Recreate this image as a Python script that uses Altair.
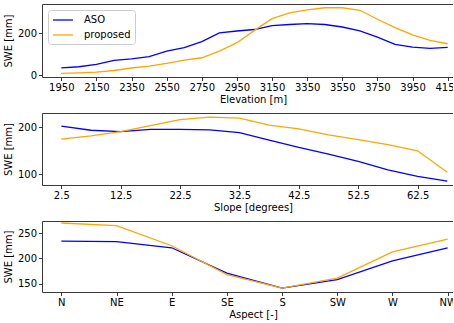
import altair as alt
import pandas as pd

# ---- data ----
series = ["ASO", "proposed"]

elevation = [1950, 2050, 2150, 2250, 2350, 2450, 2550, 2650, 2750, 2850, 2950, 3050,
             3150, 3250, 3350, 3450, 3550, 3650, 3750, 3850, 3950, 4050, 4150]
elev_aso = [35, 40, 51, 70, 78, 88, 115, 131, 160, 202, 211, 218,
            237, 242, 246, 242, 230, 211, 182, 147, 134, 128, 133]
elev_prop = [8, 11, 14, 22, 34, 43, 56, 72, 83, 115, 155, 214,
             270, 298, 312, 322, 322, 310, 267, 227, 192, 166, 150]
elev_ticks = [1950, 2150, 2350, 2550, 2750, 2950, 3150, 3350, 3550, 3750, 3950, 4150]

slope = [2.5, 7.5, 12.5, 17.5, 22.5, 27.5, 32.5, 37.5, 42.5, 47.5, 52.5, 57.5, 62.5, 67.5]
slope_aso = [203, 194, 191, 196, 196, 195, 189, 173, 157, 143, 127, 109, 95, 85]
slope_prop = [175, 182, 191, 204, 217, 222, 220, 205, 197, 184, 174, 163, 150, 104]
slope_ticks = [2.5, 12.5, 22.5, 32.5, 42.5, 52.5, 62.5]

aspect = ["N", "NE", "E", "SE", "S", "SW", "W", "NW"]
aspect_idx = [0, 1, 2, 3, 4, 5, 6, 7]
aspect_aso = [234, 233, 221, 171, 141, 158, 195, 221]
aspect_prop = [270, 265, 225, 168, 141, 161, 213, 238]


def long_df(xs, a, p):
    return pd.DataFrame({
        "x": list(xs) * 2,
        "v": list(a) + list(p),
        "s": [series[0]] * len(xs) + [series[1]] * len(xs),
    })


df1 = long_df(elevation, elev_aso, elev_prop)
df2 = long_df(slope, slope_aso, slope_prop)
df3 = long_df(aspect_idx, aspect_aso, aspect_prop)

W = 412
FONT = "DejaVu Sans"

color_scale = alt.Scale(domain=series, range=["#0000ff", "#ffa500"])


def yaxis(values):
    return alt.Axis(title="SWE [mm]", values=values, titlePadding=4, format="d")


def xaxis(title, values, fmt=None, label_expr=None):
    kw = dict(title=title, values=values, labelFlush=False, titleX=211,
              labelOverlap=False)
    if fmt:
        kw["format"] = fmt
    if label_expr:
        kw["labelExpr"] = label_expr
    return alt.Axis(**kw)


legend = alt.Legend(
    title=None, orient="top-left", offset=6, fillColor="white",
    strokeColor="#cccccc", cornerRadius=3, padding=4,
    symbolType="M-1,0H3", symbolSize=100, symbolStrokeWidth=1.3,
    labelFontSize=10, labelFont=FONT, rowPadding=4, labelOffset=20,
)

p1 = alt.Chart(df1).mark_line(strokeWidth=1.3, clip=True).encode(
    x=alt.X("x:Q", scale=alt.Scale(domain=[1840, 4186], nice=False, zero=False),
            axis=xaxis("Elevation [m]", elev_ticks, fmt="d")),
    y=alt.Y("v:Q", scale=alt.Scale(domain=[-9, 340], nice=False, zero=False),
            axis=yaxis([0, 200])),
    color=alt.Color("s:N", scale=color_scale, legend=legend),
).properties(width=W, height=73)

p2 = alt.Chart(df2).mark_line(strokeWidth=1.3, clip=True).encode(
    x=alt.X("x:Q", scale=alt.Scale(domain=[-0.75, 68.63], nice=False, zero=False),
            axis=xaxis("Slope [degrees]", slope_ticks, fmt=".1f")),
    y=alt.Y("v:Q", scale=alt.Scale(domain=[76.5, 231], nice=False, zero=False),
            axis=yaxis([100, 200])),
    color=alt.Color("s:N", scale=color_scale, legend=None),
).properties(width=W, height=72)

label_expr = "[" + ",".join("'%s'" % a for a in aspect) + "][round(datum.value)]"
p3 = alt.Chart(df3).mark_line(strokeWidth=1.3, clip=True).encode(
    x=alt.X("x:Q", scale=alt.Scale(domain=[-0.35, 7.115], nice=False, zero=False),
            axis=xaxis("Aspect [-]", aspect_idx, label_expr=label_expr)),
    y=alt.Y("v:Q", scale=alt.Scale(domain=[133.5, 274], nice=False, zero=False),
            axis=yaxis([150, 200, 250])),
    color=alt.Color("s:N", scale=color_scale, legend=None),
).properties(width=W, height=71)

chart = alt.vconcat(p1, p2, p3, spacing=7).resolve_scale(
    color="independent"
).properties(
    padding={"left": 2, "top": 3, "right": -8, "bottom": 0},
).configure_view(
    stroke="#3a3a3a", strokeWidth=1,
).configure_axis(
    grid=False, domain=False, tickSize=3.5, tickColor="#222222", tickWidth=0.9,
    labelFont=FONT, titleFont=FONT, labelFontSize=10, titleFontSize=10,
    labelColor="black", titleColor="black", titleFontWeight="normal",
    labelPadding=2,
).configure_axisX(titlePadding=2)

chart.save("out.html", embed_options={"renderer": "svg", "actions": False})
